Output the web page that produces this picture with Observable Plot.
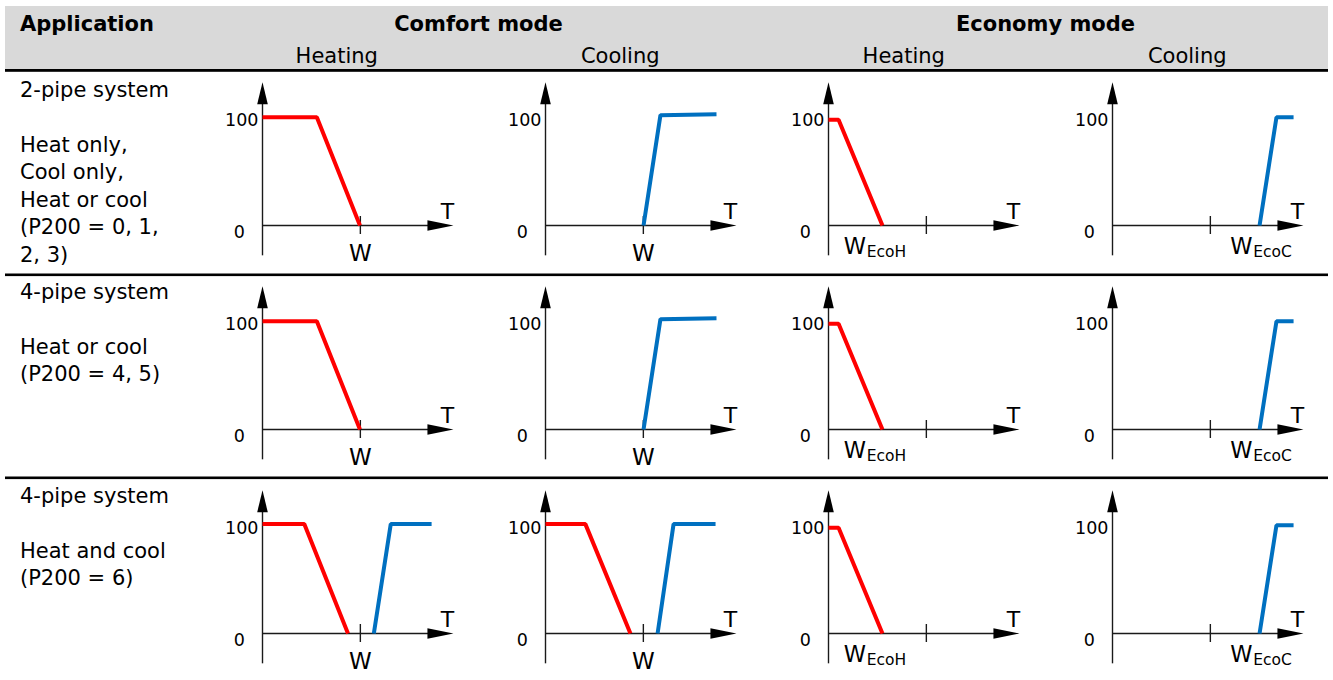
<!DOCTYPE html>
<html><head><meta charset="utf-8">
<script src="https://cdn.jsdelivr.net/npm/d3@7"></script>
<script src="https://cdn.jsdelivr.net/npm/@observablehq/plot@0.6"></script>
<style>
html,body{margin:0;padding:0;background:#fff;}
#root{position:relative;width:1333px;height:680px;overflow:hidden;font-family:"DejaVu Sans",Verdana,sans-serif;color:#000;}
</style></head><body><div id="root"></div>
<script>
// ---------- data ----------
const applicationHeader = "Application";
const modes = ["Comfort mode", "Economy mode"];
const functions = ["Heating", "Cooling", "Heating", "Cooling"];
const rowLabels = [
  ["2-pipe system", "", "Heat only,", "Cool only,", "Heat or cool", "(P200 = 0, 1,", "2, 3)"],
  ["4-pipe system", "", "Heat or cool", "(P200 = 4, 5)"],
  ["4-pipe system", "", "Heat and cool", "(P200 = 6)"]
];
const yTickValues = [0, 100];
const yTickLabels = ["0", "100"];
const axisLabel = "T";
const setpointLabel = "W";
const ecoHeatSub = "EcoH";
const ecoCoolSub = "EcoC";
const setpointT = 51.5;           // position of W on the T axis (relative units)
const ecoHeatLabelT = 8;
const ecoCoolLabelT = 62;

// curves: T position (relative 0..100 along the T axis) and valve opening (%)
const comfortHeatT = [0, 28.6, 51.3];
const comfortHeatV = [100, 100, 0];
const comfortCoolT = [51.6, 60.5, 90];
const comfortCoolV = [0, 101.9, 102.8];
const ecoHeatT = [0, 5.3, 28.4];
const ecoHeatV = [97.6, 97.6, 0];
const ecoCoolT = [77.4, 86.3, 95.3];
const ecoCoolV = [0, 100, 100];
const bothHeat1T = [0, 22, 45];
const bothHeat1V = [101, 101, 0];
const bothCool1T = [58.6, 67.5, 89];
const bothCool1V = [0, 101, 101];
const bothHeat2T = [0, 21, 44.7];
const bothHeat2V = [101, 101, 0];
const bothCool2T = [59, 67.4, 89.5];
const bothCool2V = [0, 101, 101];

// ---------- layout / style ----------
const RED = "#ff0000", BLUE = "#0070c0", AXIS = "#1a1a1a";
const colAxisX = [261.5, 545, 828, 1112];
const rowAxisY = [225, 429, 633];
const colCenters = [336.75, 620.25, 903.75, 1187.25];
const modeCenters = [478.5, 1045.5];
const rowSeparators = [273.5, 476.5];
const labelBaselines = [96.7, 298.5, 502.5];
const FONT = "DejaVu Sans, Verdana, sans-serif";
const TEXT_SIZE = 21;

const series = (T, V) => T.map((t, i) => ({t, v: V[i]}));
const heatOnly = (T, V) => [{d: series(T, V), color: RED}];
const coolOnly = (T, V) => [{d: series(T, V), color: BLUE}];

const cells = [
  [
    {curves: heatOnly(comfortHeatT, comfortHeatV), label: "comfort"},
    {curves: coolOnly(comfortCoolT, comfortCoolV), label: "comfort"},
    {curves: heatOnly(ecoHeatT, ecoHeatV), label: "ecoH"},
    {curves: coolOnly(ecoCoolT, ecoCoolV), label: "ecoC"}
  ],
  [
    {curves: heatOnly(comfortHeatT, comfortHeatV), label: "comfort"},
    {curves: coolOnly(comfortCoolT, comfortCoolV), label: "comfort"},
    {curves: heatOnly(ecoHeatT, ecoHeatV), label: "ecoH"},
    {curves: coolOnly(ecoCoolT, ecoCoolV), label: "ecoC"}
  ],
  [
    {curves: [...heatOnly(bothHeat1T, bothHeat1V), ...coolOnly(bothCool1T, bothCool1V)], label: "comfort"},
    {curves: [...heatOnly(bothHeat2T, bothHeat2V), ...coolOnly(bothCool2T, bothCool2V)], label: "comfort"},
    {curves: heatOnly(ecoHeatT, ecoHeatV), label: "ecoH"},
    {curves: coolOnly(ecoCoolT, ecoCoolV), label: "ecoC"}
  ]
];

// ---------- table frame ----------
const root = d3.select("#root");
const frame = root.append("svg").attr("width", 1333).attr("height", 680)
  .style("position", "absolute").style("left", "0px").style("top", "0px")
  .style("font-family", FONT);
frame.append("rect").attr("x", 5).attr("y", 6).attr("width", 1323).attr("height", 64).attr("fill", "#d9d9d9");
frame.append("rect").attr("x", 5).attr("y", 69).attr("width", 1323).attr("height", 2.8).attr("fill", "#000");
rowSeparators.forEach(y => frame.append("rect").attr("x", 5).attr("y", y).attr("width", 1323).attr("height", 2.6).attr("fill", "#000"));
frame.append("text").attr("x", 20).attr("y", 30.7).attr("font-size", TEXT_SIZE).attr("font-weight", "bold").text(applicationHeader);
modes.forEach((m, i) => frame.append("text").attr("x", modeCenters[i]).attr("y", 30.7).attr("text-anchor", "middle")
  .attr("font-size", TEXT_SIZE).attr("font-weight", "bold").text(m));
functions.forEach((f, i) => frame.append("text").attr("x", colCenters[i]).attr("y", 62.7).attr("text-anchor", "middle")
  .attr("font-size", TEXT_SIZE).text(f));
rowLabels.forEach((lines, r) => lines.forEach((l, k) => {
  if (l) frame.append("text").attr("x", 20).attr("y", labelBaselines[r] + k * 27.5).attr("font-size", TEXT_SIZE).text(l);
}));

// ---------- charts ----------
const arrowUp = {draw(ctx) { ctx.moveTo(0, 0); ctx.lineTo(5.3, 22); ctx.lineTo(-5.3, 22); ctx.closePath(); }};
const arrowRight = {draw(ctx) { ctx.moveTo(0, 0); ctx.lineTo(-26, -5.3); ctx.lineTo(-26, 5.3); ctx.closePath(); }};

const W = 283, H = 200, ML = 60, X0 = 150, PX_PER_UNIT_Y = 1.083;
function chart(spec) {
  const marks = [
    Plot.ruleX([0], {y1: -28, y2: 125, stroke: AXIS, strokeWidth: 1.4}),
    Plot.ruleY([0], {x1: 0, x2: 95, stroke: AXIS, strokeWidth: 1.4}),
    Plot.dot([0], {x: 0, y: 132.3, symbol: arrowUp, fill: "#000", stroke: "none"}),
    Plot.dot([0], {x: 100.5, y: 0, symbol: arrowRight, fill: "#000", stroke: "none"}),
    Plot.ruleX([setpointT], {y1: -8.3, y2: 8.3, stroke: AXIS, strokeWidth: 1.4}),
    Plot.text([yTickValues[1]], {x: 0, y: d => d, text: () => yTickLabels[1], textAnchor: "end", lineAnchor: "bottom", dx: -4, dy: 8.5, fontSize: 17.5}),
    Plot.text([yTickValues[0]], {x: 0, y: d => d, text: () => yTickLabels[0], textAnchor: "end", lineAnchor: "bottom", dx: -17.5, dy: 12, fontSize: 17.5}),
    Plot.text([axisLabel], {x: 100.5, y: 0, text: d => d, textAnchor: "middle", lineAnchor: "bottom", dx: -6, dy: -7, fontSize: 22})
  ];
  for (const c of spec.curves) {
    marks.push(Plot.line(c.d, {x: "t", y: "v", stroke: c.color, strokeWidth: 4, strokeLinejoin: "miter", strokeLinecap: "butt"}));
  }
  if (spec.label === "comfort") {
    marks.push(Plot.text([setpointLabel], {x: setpointT, y: 0, text: d => d, textAnchor: "middle", lineAnchor: "bottom", dy: 35.5, fontSize: 23}));
  } else {
    const lt = spec.label === "ecoH" ? ecoHeatLabelT : ecoCoolLabelT;
    const sub = spec.label === "ecoH" ? ecoHeatSub : ecoCoolSub;
    marks.push(Plot.text([setpointLabel], {x: lt, y: 0, text: d => d, textAnchor: "start", lineAnchor: "bottom", dy: 28, fontSize: 22.5}));
    marks.push(Plot.text([sub], {x: lt, y: 0, text: d => d, textAnchor: "start", lineAnchor: "bottom", dx: 23, dy: 31, fontSize: 15.5}));
  }
  return Plot.plot({
    width: W, height: H,
    marginLeft: ML, marginRight: 33, marginTop: 10, marginBottom: 10,
    x: {domain: [0, 100], range: [ML, ML + 190], axis: null},
    y: {domain: [0, 100], range: [X0, X0 - 100 * PX_PER_UNIT_Y], axis: null},
    style: {background: "transparent", overflow: "visible", fontFamily: FONT, color: "#000"},
    marks
  });
}

cells.forEach((row, r) => row.forEach((spec, c) => {
  const fig = chart(spec);
  fig.style.position = "absolute";
  fig.style.left = (colAxisX[c] - ML) + "px";
  fig.style.top = (rowAxisY[r] - X0) + "px";
  root.node().appendChild(fig);
}));
</script></body></html>
